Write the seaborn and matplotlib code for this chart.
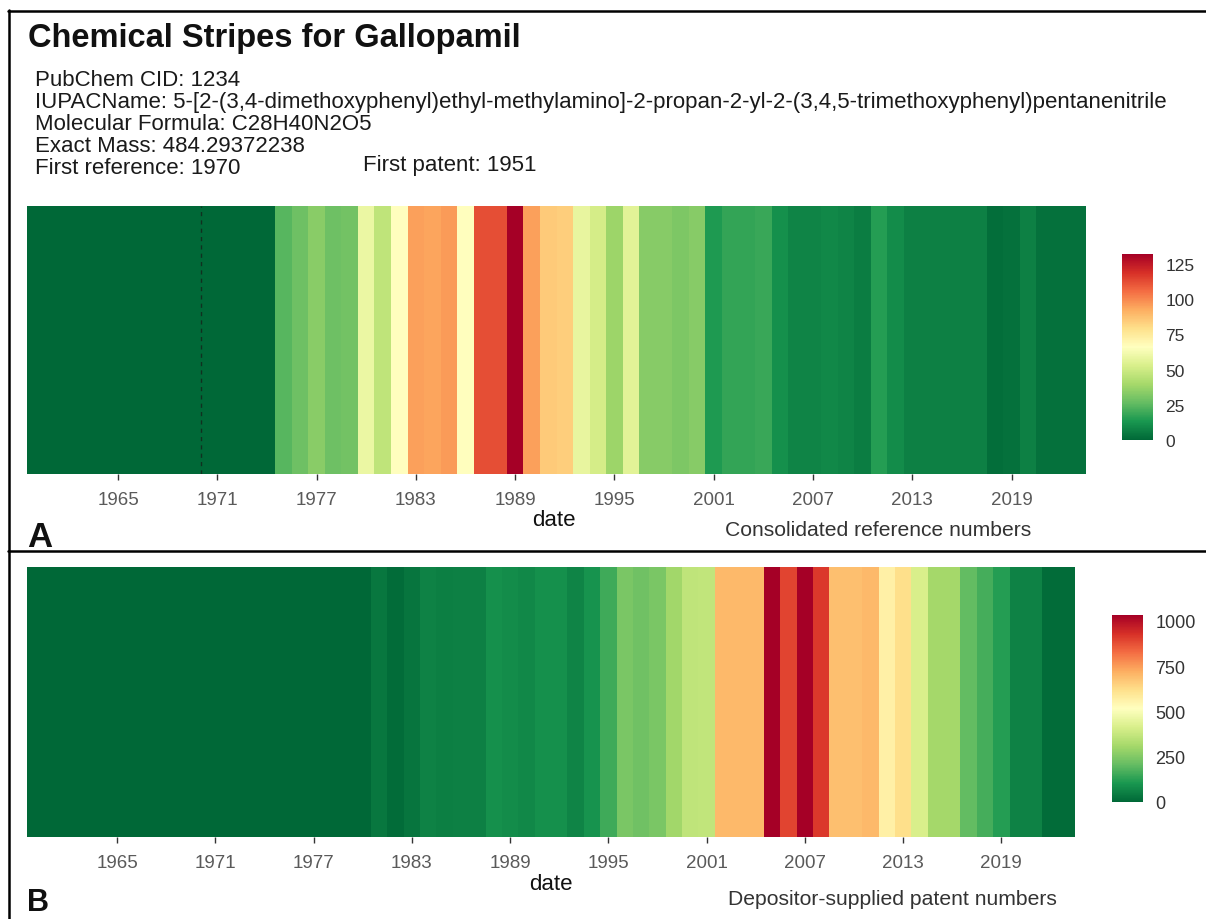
import numpy as np
import pandas as pd
import seaborn as sns
import matplotlib.pyplot as plt
from matplotlib.lines import Line2D

# ---- data -------------------------------------------------------------
compound = "Gallopamil"
cid = 1234
iupac_name = ("5-[2-(3,4-dimethoxyphenyl)ethyl-methylamino]-2-propan-2-yl-"
              "2-(3,4,5-trimethoxyphenyl)pentanenitrile")
formula = "C28H40N2O5"
exact_mass = "484.29372238"
first_reference = 1970
first_patent = 1951

years = list(range(1960, 2024))

# consolidated literature references per year
ref_counts = [
    0, 0, 0, 0, 0, 0, 0, 0, 0, 0,            # 1960-1969
    0, 0, 0, 0, 0, 24, 28, 34, 28, 29,       # 1970-1979
    59, 46, 66, 95, 94, 96, 66, 112, 112, 132,  # 1980-1989
    95, 85, 84, 58, 52, 38, 56, 33, 33, 31,  # 1990-1999
    33, 14, 18, 18, 19, 11, 8, 8, 9, 8,      # 2000-2009
    6, 15, 10, 7, 7, 7, 7, 7, 2, 3,          # 2010-2019
    7, 3, 3, 3,                              # 2020-2023
]

# depositor-supplied patents per year
patent_counts = [
    0, 0, 0, 0, 0, 0, 0, 0, 0, 0,            # 1960-1969
    0, 0, 0, 0, 0, 0, 0, 0, 0, 0,            # 1970-1979
    0, 35, 10, 30, 60, 50, 55, 55, 85, 80,   # 1980-1989
    70, 85, 85, 62, 95, 155, 240, 225, 240, 305,  # 1990-1999
    360, 365, 700, 700, 700, 1030, 895, 1033, 915, 690,  # 2000-2009
    690, 700, 568, 620, 415, 310, 310, 205, 165, 120,    # 2010-2019
    60, 60, 10, 10,                          # 2020-2023
]

tick_years = [1965, 1971, 1977, 1983, 1989, 1995, 2001, 2007, 2013, 2019]
ref_cbar_ticks = [0, 25, 50, 75, 100, 125]
pat_cbar_ticks = [0, 250, 500, 750, 1000]

# ---- style ------------------------------------------------------------
sns.set_theme(style="white")
plt.rcParams["font.family"] = ["Liberation Sans", "DejaVu Sans"]

W, H = 1206, 920
fig = plt.figure(figsize=(W / 100, H / 100), dpi=100)
fig.patch.set_facecolor("white")


def box(x0, y0, x1, y1):
    """pixel box (top-left origin) -> figure fraction rect"""
    return [x0 / W, 1 - y1 / H, (x1 - x0) / W, (y1 - y0) / H]


def fx(x):
    return x / W


def fy(y):
    return 1 - y / H


def stripes(ax, cax, values, vmax, cticks, clabelsize):
    df = pd.DataFrame([values], columns=years)
    sns.heatmap(df, ax=ax, cmap="RdYlGn_r", vmin=0, vmax=vmax,
                cbar_ax=cax, xticklabels=False, yticklabels=False,
                linewidths=0)
    pos = [years.index(y) + 0.5 for y in tick_years]
    ax.set_xticks(pos)
    ax.set_xticklabels([str(y) for y in tick_years], rotation=0)
    ax.set_yticks([])
    ax.set_xlabel("")
    ax.set_ylabel("")
    ax.tick_params(axis="x", bottom=True, length=4.5, width=1,
                   color="#333333", labelsize=13.5, labelcolor="#5a5a5a",
                   pad=8)
    for s in ax.spines.values():
        s.set_visible(False)
    cbar = ax.collections[0].colorbar
    cbar.set_ticks(cticks)
    cbar.outline.set_visible(False)
    cax.tick_params(axis="y", direction="in", left=True, right=True,
                    labelleft=False, labelright=True, length=5, width=1,
                    color="white", labelsize=clabelsize,
                    labelcolor="#333333", pad=9)
    return cbar


# ---- panel A: references ---------------------------------------------
axA = fig.add_axes(box(27, 207, 1086, 475))
caxA = fig.add_axes(box(1122, 255, 1153, 441))
stripes(axA, caxA, ref_counts, max(ref_counts), ref_cbar_ticks, 12.5)
axA.axvline(years.index(first_reference) + 0.5, color="#10301f",
            lw=1, ls=(0, (3, 3)))

# ---- panel B: patents ------------------------------------------------
axB = fig.add_axes(box(27, 568, 1075, 838))
caxB = fig.add_axes(box(1112, 616, 1143, 803))
stripes(axB, caxB, patent_counts, max(patent_counts), pat_cbar_ticks, 13)

# ---- header text -----------------------------------------------------
fig.text(fx(28), fy(47), f"Chemical Stripes for {compound}",
         fontsize=23.5, fontweight="bold", color="#111111", va="baseline")
info = [
    f"PubChem CID: {cid}",
    f"IUPACName: {iupac_name}",
    f"Molecular Formula: {formula}",
    f"Exact Mass: {exact_mass}",
    f"First reference: {first_reference}",
]
for i, line in enumerate(info):
    fig.text(fx(35), fy(86 + 22 * i), line, fontsize=16,
             color="#1a1a1a", va="baseline")
fig.text(fx(363), fy(171), f"First patent: {first_patent}",
         fontsize=16, color="#1a1a1a", va="baseline")

# ---- axis titles, captions and panel letters -------------------------
fig.text(fx(554), fy(521), "date", fontsize=16, ha="center",
         va="center", color="#111111")
fig.text(fx(1031), fy(530), "Consolidated reference numbers",
         fontsize=15.2, ha="right", va="center", color="#333333")
fig.text(fx(27), fy(547), "A", fontsize=25, fontweight="bold",
         va="baseline", color="#111111")

fig.text(fx(551), fy(885), "date", fontsize=16, ha="center",
         va="center", color="#111111")
fig.text(fx(1057), fy(900), "Depositor-supplied patent numbers",
         fontsize=15.2, ha="right", va="center", color="#333333")
fig.text(fx(27), fy(918), "B", fontsize=22, fontweight="bold",
         va="bottom", color="#111111")

# ---- frame lines ------------------------------------------------------
lw = 1.8
fig.add_artist(Line2D([fx(8.5), fx(8.5)], [fy(11), fy(920)],
                      transform=fig.transFigure, color="black", lw=lw))
fig.add_artist(Line2D([fx(7.5), fx(1206)], [fy(12), fy(12)],
                      transform=fig.transFigure, color="black", lw=lw))
fig.add_artist(Line2D([fx(7.5), fx(1206)], [fy(552), fy(552)],
                      transform=fig.transFigure, color="black", lw=lw))

fig.savefig("out.png", dpi=100, facecolor="white")
